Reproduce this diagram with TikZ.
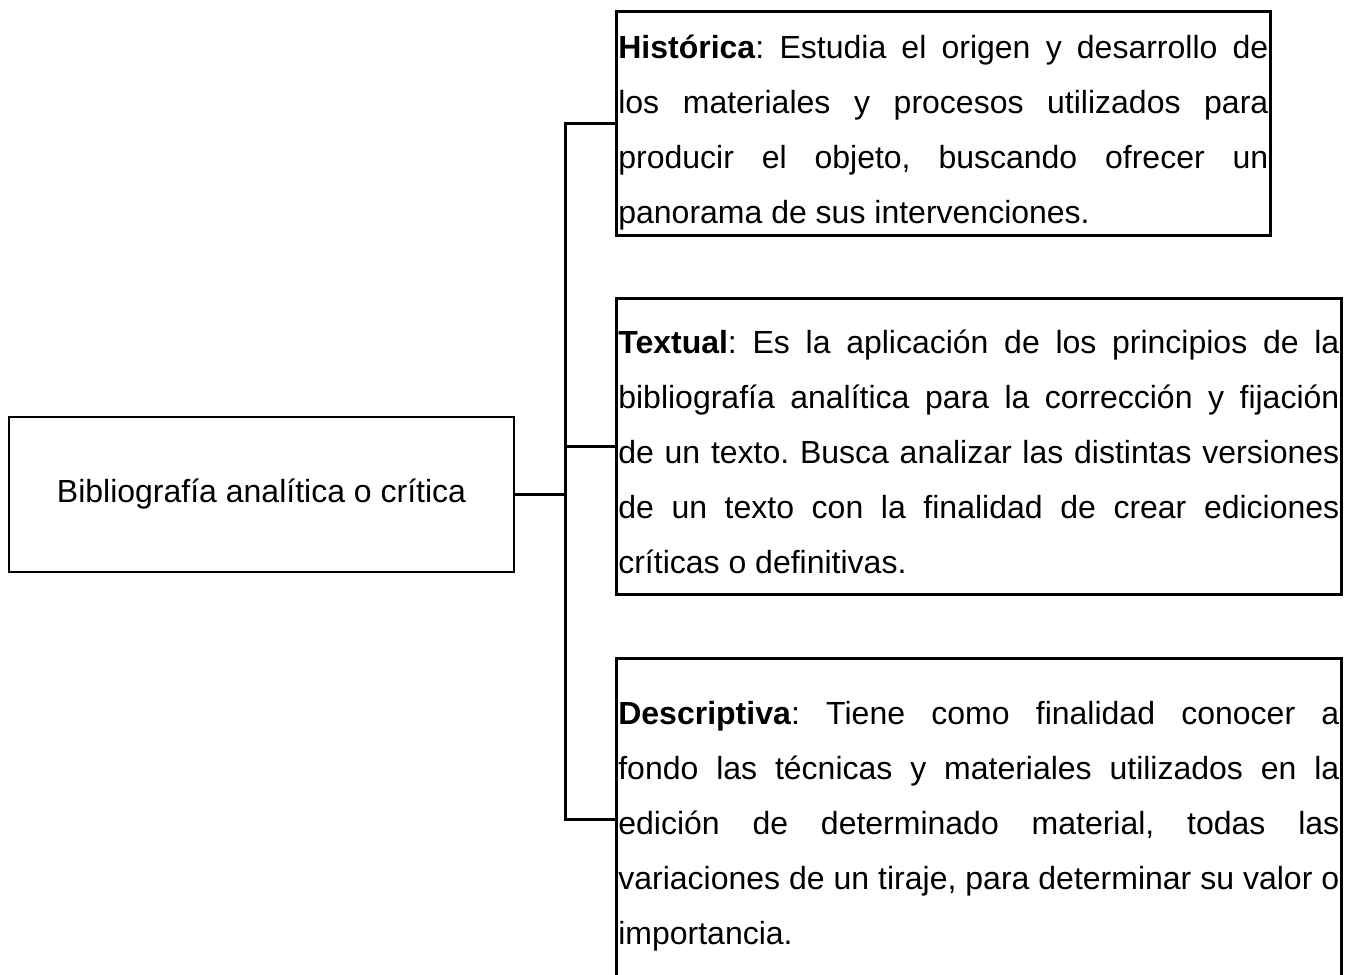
\documentclass[tikz,border=0pt]{standalone}
\usepackage{fontspec}
\setmainfont{Liberation Sans}
\usepackage{tikz}
\usetikzlibrary{positioning,calc}

\newdimen\pxu
\pxu=0.375pt
\hyphenpenalty=10000
\tolerance=10000
\frenchspacing

\tikzset{
  rootbox/.style={draw, line width=1pt, rectangle, minimum width=505\pxu, minimum height=155\pxu, inner sep=0pt},
  branchbox/.style={draw, line width=1pt, rectangle, anchor=north west, inner xsep=2\pxu, inner ysep=0pt, align=justify},
  link/.style={line width=1pt}
}

\begin{document}
\begin{tikzpicture}[%
    x=0.375pt,
    y=-0.375pt,
    font=\fontsize{12pt}{20.625pt}\selectfont
  ]
  \useasboundingbox (0,0) rectangle (1358,974);

  \node[rootbox] (root) at (261.5,494.5) {Bibliografía analítica o crítica};

  \node[branchbox, text width=650\pxu] (hist) at (615,10) {\rule{0pt}{47\pxu}\textbf{Histórica}: Estudia el origen y desarrollo de\linebreak los materiales y procesos utilizados para\linebreak producir el objeto, buscando ofrecer un\linebreak panorama de sus intervenciones.\rule[-12\pxu]{0pt}{12\pxu}};
  \node[branchbox, text width=721\pxu] (textual) at (615,297) {\rule{0pt}{55\pxu}\textbf{Textual}: Es la aplicación de los principios de la\linebreak bibliografía analítica para la corrección y fijación\linebreak de un texto. Busca analizar las distintas versiones\linebreak de un texto con la finalidad de crear ediciones\linebreak críticas o definitivas.\rule[-21\pxu]{0pt}{21\pxu}};
  \node[branchbox, text width=721\pxu] (descr) at (615,657) {\rule{0pt}{66\pxu}\textbf{Descriptiva}: Tiene como finalidad conocer a\linebreak fondo las técnicas y materiales utilizados en la\linebreak edición de determinado material, todas las\linebreak variaciones de un tiraje, para determinar su valor o\linebreak importancia.\rule[-36\pxu]{0pt}{36\pxu}};

  \path (root.east) ++(50,0) coordinate (fork);
  \path[link] (root.east) edge (fork);
  \draw[link] (hist.west) -| (fork |- descr.west) -- (descr.west);
  \path[link] (fork |- textual.west) edge (textual.west);

\end{tikzpicture}
\end{document}
